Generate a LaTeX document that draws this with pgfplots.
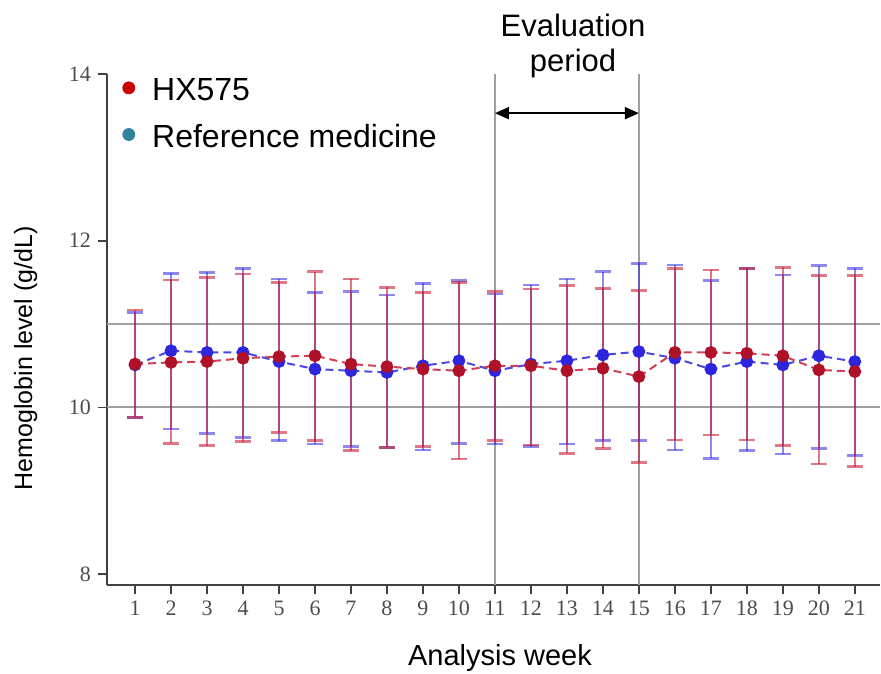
\documentclass[border=0pt]{standalone}
\usepackage{fontspec}
\setmainfont{Liberation Sans}
\newfontfamily\tickfont{Liberation Serif}
\usepackage{pgfplots}
\pgfplotsset{compat=1.18}
\usepackage{pgfplotstable}
\usetikzlibrary{arrows.meta}

\definecolor{hxred}{RGB}{175,18,40}
\definecolor{hxbar}{RGB}{200,30,55}
\definecolor{refblue}{RGB}{45,38,222}
\definecolor{legred}{RGB}{204,0,0}
\definecolor{legteal}{RGB}{49,133,155}
\definecolor{refline}{RGB}{160,160,160}

% week, mean, upper and lower end of the bar
\pgfplotstableread{
w  m      hi     lo
1  10.52  11.17  9.88
2  10.54  11.53  9.57
3  10.55  11.56  9.54
4  10.59  11.60  9.59
5  10.61  11.50  9.70
6  10.62  11.63  9.60
7  10.52  11.54  9.48
8  10.49  11.44  9.52
9  10.46  11.38  9.53
10 10.44  11.50  9.38
11 10.50  11.39  9.60
12 10.50  11.42  9.55
13 10.44  11.46  9.45
14 10.47  11.43  9.51
15 10.37  11.40  9.34
16 10.66  11.67  9.61
17 10.66  11.65  9.67
18 10.65  11.67  9.61
19 10.62  11.68  9.54
20 10.45  11.58  9.32
21 10.43  11.58  9.29
}\hxdata

\pgfplotstableread{
w  m      hi     lo
1  10.51  11.14  9.88
2  10.68  11.61  9.74
3  10.66  11.62  9.69
4  10.66  11.67  9.64
5  10.55  11.54  9.60
6  10.46  11.38  9.56
7  10.44  11.39  9.53
8  10.42  11.35  9.52
9  10.50  11.49  9.49
10 10.56  11.52  9.57
11 10.44  11.36  9.56
12 10.52  11.47  9.53
13 10.56  11.54  9.56
14 10.63  11.63  9.60
15 10.67  11.73  9.60
16 10.59  11.71  9.49
17 10.46  11.52  9.39
18 10.55  11.67  9.48
19 10.51  11.59  9.44
20 10.62  11.70  9.51
21 10.55  11.67  9.42
}\refdata

\begin{document}
\begin{tikzpicture}
\useasboundingbox (-53.5pt,-44pt) rectangle (387pt,292.5pt);
\begin{axis}[
  scale only axis,
  width=386.5pt, height=255.5pt,
  xmin=0.22, xmax=21.7, ymin=7.87, ymax=14,
  axis x line*=bottom, axis y line*=left,
  axis line style={line width=1pt, black!75},
  xtick={1,...,21}, ytick={8,10,12,14},
  tick align=outside, major tick length=4.5pt,
  tick style={line width=0.8pt, black!75},
  tick label style={font=\tickfont\fontsize{11}{13}\selectfont, text=black!70},
  /pgf/number format/assume math mode=true,
  extra y ticks={10,11}, extra y tick labels={},
  extra y tick style={grid=major, major tick length=0pt,
    major grid style={refline, line width=1pt}},
  extra x ticks={11,15}, extra x tick labels={},
  extra x tick style={grid=major, major tick length=0pt,
    major grid style={refline, line width=1pt}},
  clip=false,
  legend style={at={(rel axis cs:0,1)}, anchor=north west, xshift=4.5pt, yshift=2pt,
    draw=none, fill=none, font=\fontsize{16}{19}\selectfont, row sep=6.5pt},
  legend cell align=left,
]
\addlegendimage{legend image code/.code={\fill[legred] (0pt,1.5pt) circle (3pt); \path (-3pt,0pt) (9.5pt,0pt);}}
\addlegendentry{HX575}
\addlegendimage{legend image code/.code={\fill[legteal] (0pt,1.5pt) circle (3pt); \path (-3pt,0pt) (9.5pt,0pt);}}
\addlegendentry{Reference medicine}

\addplot[forget plot, refblue!85, line width=1pt, dash pattern=on 4pt off 2.5pt,
  mark=*, mark size=2.7pt, mark options={solid, draw=refblue, fill=refblue},
  error bars/.cd, y dir=both, y explicit,
  error bar style={solid, line width=1.3pt, refblue, opacity=0.55},
  error mark options={rotate=90, solid, line width=1.3pt, refblue, opacity=0.55, mark size=4pt}]
  table[x=w, y=m, y error plus expr=\thisrow{hi}-\thisrow{m},
        y error minus expr=\thisrow{m}-\thisrow{lo}] {\refdata};

\addplot[forget plot, hxbar!85, line width=1pt, dash pattern=on 4pt off 2.5pt,
  mark=*, mark size=2.7pt, mark options={solid, draw=hxred, fill=hxred},
  error bars/.cd, y dir=both, y explicit,
  error bar style={solid, line width=1.3pt, hxbar, opacity=0.6},
  error mark options={rotate=90, solid, line width=1.3pt, hxbar, opacity=0.6, mark size=4pt}]
  table[x=w, y=m, y error plus expr=\thisrow{hi}-\thisrow{m},
        y error minus expr=\thisrow{m}-\thisrow{lo}] {\hxdata};

\node[anchor=base, font=\fontsize{14.5}{17}\selectfont] at (axis cs:11.14,6.908) {Analysis week};
\node[anchor=base, rotate=90, font=\fontsize{12.5}{15}\selectfont] at (axis cs:-1.861,10.59) {Hemoglobin level (g/dL)};
\node[anchor=base, font=\fontsize{15.5}{17.5}\selectfont] at (axis cs:13.17,14.444) {Evaluation};
\node[anchor=base, font=\fontsize{15.5}{17.5}\selectfont] at (axis cs:13.17,14.024) {period};
\draw[{Triangle[length=7pt,width=6pt]}-{Triangle[length=7pt,width=6pt]}, line width=1pt]
  (axis cs:11,13.53) -- (axis cs:15,13.53);
\end{axis}
\end{tikzpicture}
\end{document}
